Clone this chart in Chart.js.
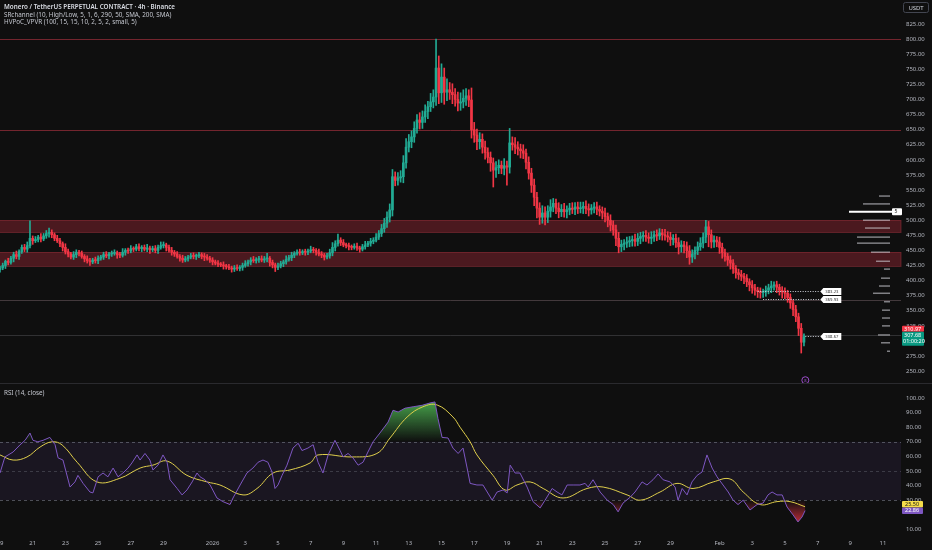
<!DOCTYPE html>
<html><head><meta charset="utf-8">
<script src="https://cdn.jsdelivr.net/npm/chart.js@4.4.1/dist/chart.umd.min.js"></script>
<style>
html,body{margin:0;padding:0;background:#0f0f0f;width:932px;height:550px;overflow:hidden;font-family:'Noto Sans',sans-serif}
#main{position:absolute;left:0;top:0}
#rsi{position:absolute;left:0;top:385px}
.sep{position:absolute;left:0;top:383px;width:932px;height:1px;background:#2a2a2e}
.t{position:absolute;left:4px;color:#c3c6ce;font-size:6.3px;line-height:7px;white-space:nowrap}
</style></head><body>
<canvas id="main" width="932" height="383"></canvas>
<div class="sep"></div>
<canvas id="rsi" width="932" height="165"></canvas>
<div class="t" style="top:3px;font-weight:600;color:#d9dce3">Monero / TetherUS PERPETUAL CONTRACT · 4h · Binance</div>
<div class="t" style="top:10.5px">SRchannel (10, High/Low, 5, 1, 6, 290, 50, SMA, 200, SMA)</div>
<div class="t" style="top:17.5px">HVPoC_VPVR (100, 15, 15, 10, 2, 5, 2, small, 5)</div>
<div class="t" style="top:389px">RSI (14, close)</div>
<script>
// ---------- DATA ----------
const firstOpen = 418;
const closes = [
421,425,432,430,437,443,440,448,455,452,
458,470,466,468,472,469,474,478,480,476,
470,466,461,455,448,444,439,443,447,445,
440,436,433,431,434,433,437,439,443,441,
444,445,446,443,442,447,450,449,453,452,
456,453,455,452,454,451,453,450,455,458,
459,455,450,447,444,440,437,434,436,439,
441,440,441,443,440,439,437,434,431,429,
427,426,424,423,421,419,421,420,422,425,
428,431,434,433,435,436,434,436,437,430,
426,422,424,428,431,435,438,442,445,447,
446,448,447,449,451,450,447,444,442,439,
441,446,455,461,467,463,459,458,456,455,
457,454,452,456,459,462,465,467,472,478,
486,495,505,517,572,566,570,572,595,621,
630,638,652,666,662,671,680,688,696,704,
752,711,737,712,716,712,708,700,694,696,
702,706,699,650,641,630,634,621,612,604,
595,583,587,591,586,590,588,628,625,621,
618,615,611,596,578,558,538,520,505,512,
505,515,522,528,520,514,518,514,517,520,
518,522,519,520,523,519,517,520,522,518,
515,512,506,500,492,484,470,456,460,462,
464,466,468,465,470,473,475,472,470,472,
476,474,479,476,474,472,468,470,463,456,
459,456,449,439,444,450,456,462,472,489,
476,464,467,464,455,446,440,434,429,420,
413,410,407,404,398,393,388,384,382,380,
381,384,388,391,393,389,384,381,379,372,
363,352,340,321,298,307];
const upWick = [
3,4,2,5,3,4,6,3,4,5, 6,29,4,5,3,6,4,5,7,4, 3,5,4,3,6,4,3,5,4,3, 4,3,5,4,3,5,4,3,4,5,
3,4,5,3,4,6,3,4,5,3, 4,5,3,4,6,3,4,5,4,6, 5,3,4,5,3,4,3,5,4,3, 4,5,3,4,3,5,4,3,4,3,
4,3,5,3,4,3,4,5,3,4, 5,3,4,6,3,4,5,4,8,3, 4,3,5,4,3,6,4,5,3,4, 5,3,4,3,6,4,3,5,4,3,
4,6,8,5,10,4,5,3,4,3, 4,5,3,4,6,3,5,4,6,5, 7,8,9,10,12,8,9,10,12,14, 12,10,11,9,12,10,11,9,14,12,
48,20,22,15,18,12,14,10,12,15, 14,12,10,20,12,10,11,9,10,8, 9,8,10,9,7,12,8,24,10,12, 9,8,10,7,9,8,10,8,9,12,
10,9,12,8,7,9,8,10,7,8, 9,7,8,10,7,9,8,6,7,8, 6,7,8,6,9,7,8,10,7,6, 8,7,6,9,8,7,6,8,7,9,
6,8,7,6,9,7,8,6,7,8, 7,6,8,9,7,6,8,9,7,11, 9,8,7,6,8,7,6,5,7,6, 5,6,7,5,6,5,7,6,5,6,
5,7,6,8,5,6,5,6,7,5, 6,5,7,6,8,5];
const dnWick = [
4,3,5,4,3,6,4,5,3,4, 5,4,6,3,4,5,3,4,6,5, 4,3,5,6,4,5,3,4,5,4, 3,5,4,6,3,4,5,3,4,3,
5,4,3,6,4,3,5,4,3,4, 3,4,5,3,4,6,3,4,5,3, 4,6,3,5,4,3,5,4,3,4, 3,4,5,3,4,6,3,4,5,3,
4,3,5,4,3,5,4,3,4,5, 3,4,5,3,4,5,3,4,5,6, 5,7,4,3,5,4,3,5,4,3, 4,3,5,4,3,4,5,3,4,5,
3,4,5,6,4,5,3,4,5,4, 3,4,5,3,4,3,5,4,3,4, 5,6,7,8,10,9,8,7,10,9, 8,10,9,8,11,10,9,12,8,10,
14,18,16,20,14,12,15,11,13,12, 10,12,11,14,12,13,12,10,11,9, 14,28,12,10,9,11,30,10,9,11, 10,12,9,11,10,12,14,16,12,10,
13,9,10,8,9,10,8,9,10,8, 7,9,8,7,9,8,10,7,8,9, 8,10,9,11,10,9,12,10,8,9, 7,8,9,8,7,9,8,7,8,9,
7,8,6,9,7,8,10,9,8,12, 9,10,11,12,9,8,7,6,8,9, 20,10,9,8,10,9,8,9,10,8, 9,8,7,9,8,10,9,8,10,9,
8,7,6,8,7,9,8,10,9,8, 9,10,8,12,18,6];

const priceTicks = [250,275,300,325,350,375,400,425,450,475,500,525,550,575,600,625,650,675,700,725,750,775,800,825];
const zoneLow  = [424, 480];
const zoneHigh = [447, 500];
const levelLines = [800, 650, 368, 310];
const vpLevels = [540,527,500,487,472,462,447,432,419,404,391,379,365,351,338,325,310,297,283];
const vpVolume = [11,27,27,25,33,33,19,14,6,9,11,17,6,8,8,8,12,9,3];
const pocPrice = 514;
const dotLevels = [383.23, 369.93, 308.67];
const dotStartBar = [278, 280, 295.5];
const dotLabelBar = 301;
const lastPrice = 307.68, prevLabel = 310.97, countdown = '01:00:20';
const eventBar = 295.5, eventPrice = 235;

// RSI pane: [bar index, value]
const rsiSeries = [[0,48.6],[1.8,59.6],[4.8,63],[7.3,67.8],[9.2,71],[11,76],[12.1,71],[13.9,70],[15.8,71],[18.3,73],
[20.2,68],[21.3,59],[23.1,57.5],[25.7,39],[27.5,42.5],[28.6,47],[30.5,41.5],[33,35.6],[34.1,35],[36,46],
[37.8,48.6],[39.6,46],[41.5,52],[43.3,46],[45.1,48.6],[47,52],[48.4,55.5],[50.3,61],[51.4,57.5],[53.2,62],
[55,57.5],[56.1,50.7],[58,54],[59.8,61],[61.3,56],[62.4,44],[65,38],[66.8,33.6],[68.6,37],[70.5,42.5],
[72.3,48.6],[73.4,46],[75.2,44],[77.1,40.4],[79.6,31.5],[81.8,29],[84.4,27],[85.5,31.5],[88.1,40.4],[90.6,48.6],
[92.8,52],[94.7,56],[96.5,57.5],[98.3,56],[99.8,49.3],[100.9,38],[102,40.4],[103.5,47],[105.3,54],[107.5,65.7],
[109.4,69],[110.8,64],[113,65.7],[114.9,68],[116.7,56],[118.5,48.6],[120.4,61],[122.9,71],[124.8,64],[125.9,59.6],
[127.7,62],[129.5,59],[131.4,54],[133.2,56],[135,63],[136.9,70],[139.4,76],[142.4,83.5],[144.2,91.6],[146.1,90.4],
[148.6,93],[151.6,94],[154.9,95],[157.8,96.6],[159.6,97.3],[160.7,86],[162.2,73],[164.4,72.6],[166.2,65.7],[168.1,62],
[169.9,65.7],[171.4,52],[172.5,41.5],[175,40.4],[177.2,40.4],[180.6,30],[182.4,35.6],[184.6,37],[186.1,35],[187.2,54],
[189,48.6],[190.8,48.6],[193.4,39],[195.6,29],[198.2,24.7],[200,30],[202.6,38],[204.4,35.6],[206.2,33.6],[208.1,40.4],
[210.3,40.4],[212.8,40.4],[214.7,41.5],[215.8,39],[217.6,44],[220.2,35.6],[222.8,30],[225,27],[226.8,22],[228.6,28],
[231.2,32],[233,35.6],[235.6,42.5],[237.4,40.4],[239.6,44],[241.5,48],[243.3,44],[245.9,42.5],[247.7,39],[248.8,30],
[250.3,38],[252.1,33.6],[253.9,42.5],[255.8,47],[257.6,49.3],[259.4,61],[261.3,52],[263.1,46],[265.3,40.4],[267.2,35.6],
[269,30],[270.8,27],[272.7,30],[275.2,23.3],[277.8,27],[280,28],[281.8,33.6],[283.3,35.6],[285.1,33.6],[287,33.6],
[288.8,25.3],[291,19.9],[292.8,15.1],[294.3,18.5],[295.4,22.86]];
const maSeries = [[0,61],[4.8,57.5],[9.9,59.6],[14.7,66.4],[19.1,70],[22.8,67.8],[28.3,56],[35.6,42.5],[44,45],[51.4,52],
[56.1,54],[61.3,56.8],[68.6,47],[76,42.5],[80.7,40.4],[89.2,33.6],[94.3,38],[100.2,48.6],[106.4,50.7],[113.8,55.5],
[116.7,61],[129.5,59.6],[138.3,62],[143.1,72.6],[149.4,87],[155.2,94],[160.4,95.2],[166.2,87],[168.8,80],[172.5,70],
[175,61],[180.9,47],[185.3,37],[189.7,40.4],[194.5,42.5],[199.3,38],[206.6,31.5],[215.4,38],[221.3,39],[230.1,33.6],
[234.9,30],[242.2,35.6],[248.4,41.5],[254.3,38],[261.7,42.5],[267.9,44.5],[272.7,35.6],[278.9,27],[285.1,29],[289.9,29],[295.4,25.5]];
const rsiTicks = [10,30,40,50,60,70,80,90,100];
const rsiBands = [70, 50, 30];
const dayTickBars = [0,12,24,36,48,60,78,90,102,114,126,138,150,162,174,186,198,210,222,234,246,264,276,288,300,312,324];
const dayTickLabels = ['19','21','23','25','27','29','2026','3','5','7','9','11','13','15','17','19','21','23','25','27','29','Feb','3','5','7','9','11'];

// ---------- BUILD ----------
Chart.defaults.font.family = "'Noto Sans', sans-serif";
const X_MAX = 330.6;
const opens = closes.map((c,i)=> i===0 ? firstOpen : closes[i-1]);
const highs = closes.map((c,i)=> Math.max(opens[i],c) + upWick[i]);
const lows  = closes.map((c,i)=> Math.min(opens[i],c) - dnWick[i]);
const UP='#22ab94', DN='#f23645';
const candleCols = closes.map((c,i)=> c>=opens[i] ? UP : DN);
const axisFont = {size:6, family:"'Noto Sans', sans-serif"};
const axisCol = '#b2b5be';

function box(ctx,x,y,w,h,fill,r){ctx.beginPath();ctx.roundRect(x,y,w,h,r||1);ctx.fillStyle=fill;ctx.fill();}

const mainDecor = {
  id:'mainDecor',
  beforeDatasetsDraw(chart){
    const {ctx, chartArea:a, scales:{x,y}} = chart;
    ctx.save();
    zoneLow.forEach((lo,k)=>{
      const y1=y.getPixelForValue(zoneHigh[k]), y2=y.getPixelForValue(lo);
      ctx.fillStyle='rgba(115,32,42,0.6)';
      ctx.fillRect(a.left,y1,a.right-a.left,y2-y1);
      ctx.strokeStyle='rgba(160,50,62,0.5)'; ctx.lineWidth=1;
      ctx.strokeRect(a.left-1,Math.round(y1)+0.5,a.right-a.left+1,Math.round(y2-y1));
    });
    const lc=['rgba(150,45,58,0.75)','rgba(150,45,58,0.75)','rgba(120,100,105,0.5)','rgba(100,100,106,0.4)'];
    levelLines.forEach((v,k)=>{
      const py=Math.round(y.getPixelForValue(v))+0.5;
      ctx.strokeStyle=lc[k]; ctx.lineWidth=1;
      ctx.beginPath(); ctx.moveTo(a.left,py); ctx.lineTo(a.right,py); ctx.stroke();
    });
    vpLevels.forEach((v,k)=>{
      const py=y.getPixelForValue(v);
      ctx.fillStyle='rgba(205,205,212,0.6)';
      ctx.fillRect(a.right-11-vpVolume[k], py-0.75, vpVolume[k], 1.5);
    });
    const pp=y.getPixelForValue(pocPrice);
    ctx.fillStyle='#ffffff';
    ctx.fillRect(a.right-52, pp-1, 44, 2);
    box(ctx,a.right-9,pp-3.5,10,7,'#ffffff',1);
    ctx.fillStyle='#111'; ctx.font="5px 'Noto Sans'"; ctx.textBaseline='middle';
    ctx.fillText('5', a.right-6.5, pp+0.3);
    ctx.restore();
  },
  afterDatasetsDraw(chart){
    const {ctx, chartArea:a, scales:{x,y}} = chart;
    ctx.save();
    const lx = x.getPixelForValue(dotLabelBar);
    dotLevels.forEach((v,k)=>{
      const py=Math.round(y.getPixelForValue(v))+0.5;
      ctx.strokeStyle='#d1d4dc'; ctx.lineWidth=1; ctx.setLineDash([1,1.5]);
      ctx.beginPath(); ctx.moveTo(x.getPixelForValue(dotStartBar[k]),py); ctx.lineTo(lx,py); ctx.stroke();
      ctx.setLineDash([]);
      ctx.beginPath();
      ctx.moveTo(lx,py); ctx.lineTo(lx+3,py-3.5); ctx.lineTo(lx+21,py-3.5); ctx.lineTo(lx+21,py+3.5); ctx.lineTo(lx+3,py+3.5); ctx.closePath();
      ctx.fillStyle='#ffffff'; ctx.fill();
      ctx.fillStyle='#333'; ctx.font="4.2px 'Noto Sans'"; ctx.textBaseline='middle'; ctx.textAlign='left';
      ctx.fillText(v.toFixed(2), lx+5, py+0.3);
    });
    const ex=x.getPixelForValue(eventBar), ey=y.getPixelForValue(eventPrice);
    ctx.strokeStyle='#9c4dcc'; ctx.lineWidth=1;
    ctx.beginPath(); ctx.arc(ex,ey,3.5,0,Math.PI*2); ctx.stroke();
    ctx.fillStyle='#9c4dcc'; ctx.font="4px 'Noto Sans'"; ctx.textAlign='center'; ctx.fillText('8',ex,ey+0.3);
    ctx.restore();
  },
  afterDraw(chart){
    const {ctx, chartArea:a, scales:{y}} = chart;
    ctx.save();
    const yg=y.getPixelForValue(lastPrice);
    ctx.font="5.5px 'Noto Sans'"; ctx.textBaseline='middle'; ctx.textAlign='left';
    box(ctx,a.right+1,yg-10.5,22,6,'#f23645',1);
    ctx.fillStyle='#fff'; ctx.fillText(prevLabel.toFixed(2),a.right+3,yg-7.3);
    box(ctx,a.right+1,yg-4.5,22,14,'#089981',1);
    ctx.fillStyle='#fff'; ctx.fillText(lastPrice.toFixed(2),a.right+3,yg-0.5);
    ctx.fillText(countdown,a.right+2,yg+5.5);
    ctx.strokeStyle='#434651'; ctx.lineWidth=1;
    ctx.beginPath(); ctx.roundRect(a.right+2.5,2.5,25,10,2); ctx.stroke();
    ctx.fillStyle='#d1d4dc'; ctx.font="6px 'Noto Sans'"; ctx.textAlign='center';
    ctx.fillText('USDT',a.right+15,7.8);
    ctx.restore();
  }
};

new Chart(document.getElementById('main'), {
  type:'bar',
  data:{datasets:[
    {label:'wick', data:closes.map((c,i)=>({x:i,y:[lows[i],highs[i]]})), backgroundColor:candleCols, barThickness:1, grouped:false},
    {label:'body', data:closes.map((c,i)=>({x:i,y:[opens[i],c]})), backgroundColor:candleCols, barThickness:2, minBarLength:1, grouped:false}
  ]},
  options:{
    responsive:false, animation:false, devicePixelRatio:1,
    layout:{padding:0},
    plugins:{legend:{display:false}, tooltip:{enabled:false}},
    scales:{
      x:{type:'linear', min:0, max:X_MAX, display:false, offset:false, grid:{offset:false}},
      y:{position:'right', min:230.4, max:864.7,
         grid:{display:false, drawTicks:false}, border:{display:false},
         ticks:{color:axisCol, font:axisFont, padding:5, autoSkip:false, callback:v=>Number(v).toFixed(2)},
         afterBuildTicks:s=>{s.ticks=priceTicks.map(v=>({value:v}));},
         afterFit:s=>{s.width=31; s.paddingTop=0; s.paddingBottom=0;}}
    }
  },
  plugins:[mainDecor]
});

const rsiDecor = {
  id:'rsiDecor',
  beforeDatasetsDraw(chart){
    const {ctx, chartArea:a, scales:{x,y}} = chart;
    const y70=y.getPixelForValue(70), y30=y.getPixelForValue(30);
    ctx.save();
    ctx.fillStyle='rgba(126,87,194,0.1)';
    ctx.fillRect(a.left,y70,a.right-a.left,y30-y70);
    ctx.strokeStyle='rgba(130,133,145,0.55)'; ctx.lineWidth=1; ctx.setLineDash([3,3]);
    rsiBands.forEach(v=>{
      const py=Math.round(y.getPixelForValue(v))+0.5;
      ctx.globalAlpha = v===50?0.6:1;
      ctx.beginPath(); ctx.moveTo(a.left,py); ctx.lineTo(a.right,py); ctx.stroke();
    });
    ctx.globalAlpha=1; ctx.setLineDash([]);
    const pts = rsiSeries.map(p=>[x.getPixelForValue(p[0]), y.getPixelForValue(p[1])]);
    const fillSide=(clipTop,clipBot,base,g)=>{
      ctx.save();
      ctx.beginPath(); ctx.rect(a.left,clipTop,a.right-a.left,clipBot-clipTop); ctx.clip();
      ctx.beginPath(); ctx.moveTo(pts[0][0],base);
      pts.forEach(p=>ctx.lineTo(p[0],p[1]));
      ctx.lineTo(pts[pts.length-1][0],base); ctx.closePath();
      ctx.fillStyle=g; ctx.fill(); ctx.restore();
    };
    const gG=ctx.createLinearGradient(0,y.getPixelForValue(100),0,y70);
    gG.addColorStop(0,'rgba(76,175,80,1)'); gG.addColorStop(1,'rgba(76,175,80,0)');
    fillSide(a.top,y70,y70,gG);
    const gR=ctx.createLinearGradient(0,y30,0,y.getPixelForValue(10));
    gR.addColorStop(0,'rgba(242,54,69,0)'); gR.addColorStop(1,'rgba(242,54,69,1)');
    fillSide(y30,a.bottom,y30,gR);
    ctx.restore();
  },
  afterDraw(chart){
    const {ctx, chartArea:a, scales:{y}} = chart;
    ctx.save();
    const rv=rsiSeries[rsiSeries.length-1][1], mv=maSeries[maSeries.length-1][1];
    const yr=y.getPixelForValue(rv), ym=Math.min(y.getPixelForValue(mv), yr-6.5);
    ctx.font="5.5px 'Noto Sans'"; ctx.textBaseline='middle'; ctx.textAlign='left';
    box(ctx,a.right+1,ym-3.2,21,6.5,'#f5dc4a',1);
    ctx.fillStyle='#131313'; ctx.fillText(mv.toFixed(2),a.right+4,ym+0.2);
    box(ctx,a.right+1,yr-3.2,21,6.5,'#7e57c2',1);
    ctx.fillStyle='#fff'; ctx.fillText(rv.toFixed(2),a.right+4,yr+0.2);
    ctx.restore();
  }
};

new Chart(document.getElementById('rsi'), {
  type:'line',
  data:{datasets:[
    {label:'RSI', data:rsiSeries.map(p=>({x:p[0],y:p[1]})), borderColor:'#7e57c2', borderWidth:1, pointRadius:0, tension:0, fill:false},
    {label:'MA', data:maSeries.map(p=>({x:p[0],y:p[1]})), borderColor:'#e0cf4c', borderWidth:1, pointRadius:0, tension:0.4, fill:false}
  ]},
  options:{
    responsive:false, animation:false, devicePixelRatio:1,
    layout:{padding:0},
    plugins:{legend:{display:false}, tooltip:{enabled:false}},
    scales:{
      x:{type:'linear', min:0, max:X_MAX,
         grid:{display:false, drawTicks:false}, border:{display:false},
         ticks:{color:axisCol, font:axisFont, padding:8, autoSkip:false, maxRotation:0, callback:(v,i)=>dayTickLabels[i]},
         afterBuildTicks:s=>{s.ticks=dayTickBars.map(v=>({value:v}));},
         afterFit:s=>{s.height=18; s.paddingLeft=0; s.paddingRight=0;}},
      y:{position:'right', min:8.2, max:108.9,
         grid:{display:false, drawTicks:false}, border:{display:false},
         ticks:{color:axisCol, font:axisFont, padding:5, autoSkip:false, callback:v=>Number(v).toFixed(2)},
         afterBuildTicks:s=>{s.ticks=rsiTicks.map(v=>({value:v}));},
         afterFit:s=>{s.width=31; s.paddingTop=0; s.paddingBottom=0;}}
    }
  },
  plugins:[rsiDecor]
});
</script>
</body></html>
